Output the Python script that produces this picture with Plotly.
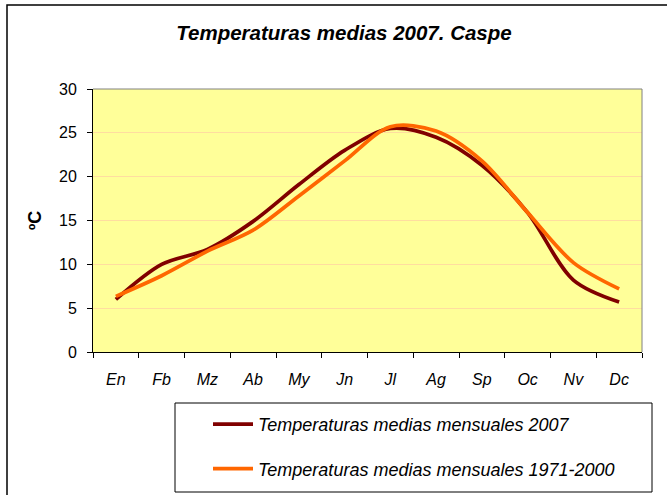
import plotly.graph_objects as go

months = ["En", "Fb", "Mz", "Ab", "My", "Jn", "Jl", "Ag", "Sp", "Oc", "Nv", "Dc"]
temp_2007 = [6.0, 10.0, 11.7, 14.9, 19.1, 23.0, 25.5, 24.5, 21.3, 15.9, 8.2, 5.7]
temp_1971_2000 = [6.35, 8.7, 11.5, 13.9, 17.8, 21.8, 25.7, 25.2, 21.8, 15.9, 10.2, 7.2]
y_ticks = [0, 5, 10, 15, 20, 25, 30]

W, H = 667, 495
L, R, T, B = 93, 642, 89, 352  # plot area in px

def px_x(p):
    return (p - L) / (R - L)

def px_y(p):
    return (B - p) / (B - T)

FONT = "Liberation Sans, Arial, sans-serif"

fig = go.Figure()
fig.add_trace(go.Scatter(
    x=months, y=temp_2007, mode="lines", name="Temperaturas medias mensuales 2007",
    line=dict(color="#800000", width=3.7, shape="spline", smoothing=0.9),
    legendgroup="a",
))
fig.add_trace(go.Scatter(
    x=months, y=temp_1971_2000, mode="lines", name="Temperaturas medias mensuales 1971-2000",
    line=dict(color="#FF6600", width=3.7, shape="spline", smoothing=0.9),
    legendgroup="b",
))

fig.update_layout(
    width=W, height=H,
    margin=dict(l=L, r=W - R, t=T, b=H - B, autoexpand=False),
    paper_bgcolor="white",
    plot_bgcolor="#FFFF99",
    font=dict(family=FONT, size=16, color="black"),
    title=dict(
        text="Temperaturas medias 2007. Caspe",
        x=344 / W, xanchor="center", xref="container",
        y=1 - 33 / H, yanchor="middle", yref="container",
        font=dict(family=FONT, size=20.5, weight="bold", style="italic", color="black"),
    ),
    showlegend=True,
    legend=dict(
        x=px_x(208), xanchor="left", y=px_y(406), yanchor="top",
        bgcolor="rgba(0,0,0,0)", borderwidth=0,
        font=dict(family=FONT, size=18, style="italic", color="black"),
        traceorder="grouped", tracegroupgap=18, itemwidth=40,
    ),
    xaxis=dict(
        type="category", tickson="boundaries", ticks="outside", ticklen=5,
        tickcolor="black", showline=True, linecolor="black", linewidth=1,
        showgrid=False, tickfont=dict(family=FONT, size=16, style="italic"),
        ticklabelstandoff=13,
        range=[-0.5, 11.5], fixedrange=True, zeroline=False,
    ),
    yaxis=dict(
        range=[0, 30], tickvals=y_ticks, ticks="outside", ticklen=5,
        tickcolor="black", showline=True, linecolor="black", linewidth=1,
        showgrid=True, gridcolor="#FFDDA0", gridwidth=1, zeroline=False,
        tickfont=dict(family=FONT, size=16), ticklabelstandoff=7,
        fixedrange=True,
        title=dict(text="ºC", font=dict(family=FONT, size=18, weight="bold"), standoff=12),
    ),
    shapes=[
        dict(type="line", xref="paper", yref="paper", x0=0, x1=1, y0=1, y1=1,
             line=dict(color="#808080", width=1)),
        dict(type="line", xref="paper", yref="paper", x0=1, x1=1, y0=0, y1=1,
             line=dict(color="#808080", width=1)),
        dict(type="rect", xref="paper", yref="paper",
             x0=px_x(175), x1=px_x(652), y0=px_y(403), y1=px_y(492),
             line=dict(color="black", width=1), fillcolor="rgba(0,0,0,0)"),
        dict(type="rect", xref="paper", yref="paper",
             x0=px_x(7), x1=px_x(700), y0=px_y(5), y1=px_y(520),
             line=dict(color="black", width=1.5), fillcolor="rgba(0,0,0,0)"),
    ],
)

fig.write_html(
    "out.html",
    config={"displayModeBar": False},
    post_script="document.body.style.margin='0';document.body.style.padding='0';",
)
